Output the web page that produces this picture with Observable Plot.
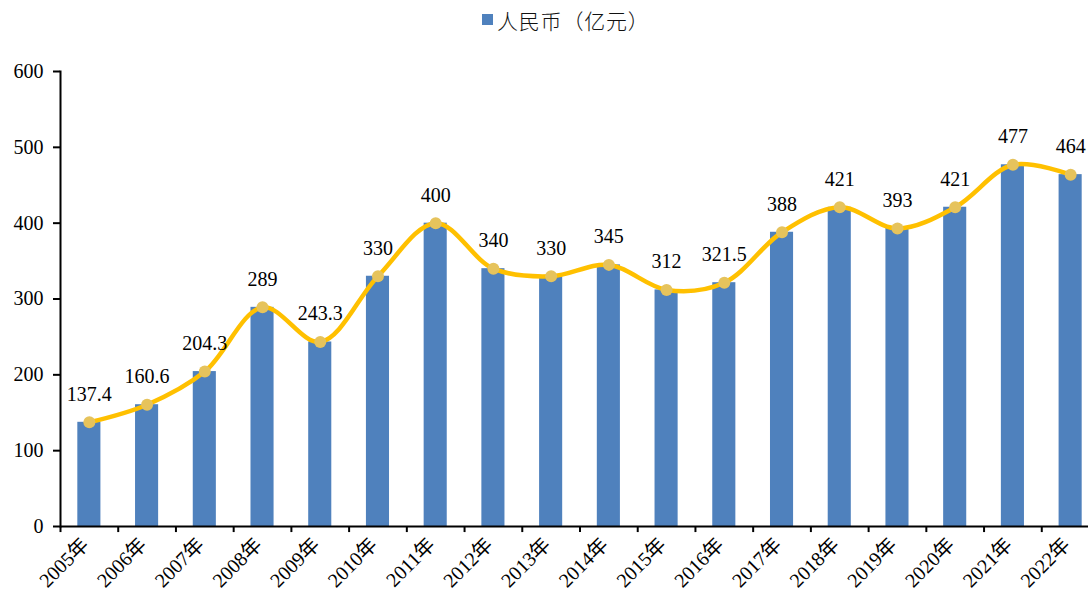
<!DOCTYPE html>
<html>
<head>
<meta charset="utf-8">
<script src="https://cdn.jsdelivr.net/npm/d3@7"></script>
<script src="https://cdn.jsdelivr.net/npm/@observablehq/plot@0.6"></script>
<style>
  body { margin: 0; background: #fff; }
  #legend { position: relative; height: 40px; font-family: "Noto Sans CJK SC", sans-serif; font-size: 21px; font-weight: 300; color: #111; }
  #legend .sw { position: absolute; left: 482px; top: 14px; width: 11px; height: 11px; background: #4F81BD; }
  #legend .tx { position: absolute; left: 497px; top: 5px; letter-spacing: 0.8px; line-height: 30px; }
  svg { overflow: visible; }
  svg text { font-family: "Liberation Serif", "Noto Sans CJK SC", serif !important; }
</style>
</head>
<body>
<div id="legend"><span class="sw"></span><span class="tx">人民币（亿元）</span></div>
<div id="chart"></div>
<script>
const years = ["2005年","2006年","2007年","2008年","2009年","2010年","2011年","2012年","2013年","2014年","2015年","2016年","2017年","2018年","2019年","2020年","2021年","2022年"];
const values = [137.4,160.6,204.3,289,243.3,330,400,340,330,345,312,321.5,388,421,393,421,477,464];
const labels = ["137.4","160.6","204.3","289","243.3","330","400","340","330","345","312","321.5","388","421","393","421","477","464"];
const yTicks = [0,100,200,300,400,500,600];

const data = years.map((y, i) => ({year: y, value: values[i], label: labels[i]}));
const xRange = [60, 1099];
const step = (xRange[1] - xRange[0]) / years.length;

const chart = Plot.plot({
  width: 1088,
  height: 557,
  marginTop: 31,
  marginLeft: 60,
  marginRight: 0,
  marginBottom: 71,
  x: {domain: years, range: xRange, paddingInner: 0.6, paddingOuter: 0.3, round: false},
  y: {domain: [0, 600], ticks: yTicks},
  marks: [
    Plot.barY(data, {x: "year", y: "value", fill: "#4F81BD"}),
    Plot.ruleY([0], {stroke: "#000", strokeWidth: 2}),
    Plot.ruleX(data, {x: "year", dx: -step / 2, y1: 0, y2: -8, stroke: "#000", strokeWidth: 2}),
    Plot.frame({anchor: "left", stroke: "#000", strokeWidth: 2}),
    Plot.line(data, {x: "year", y: "value", curve: "catmull-rom", stroke: "#FFC000", strokeWidth: 4.5}),
    Plot.dot(data, {x: "year", y: "value", r: 6, fill: "#E6C35C", stroke: "none"}),
    Plot.text(data, {x: "year", y: "value", text: "label", dy: -28, fontSize: 20, fill: "#000"}),
    Plot.axisY({ticks: yTicks, tickSize: 7, tickPadding: 10, fontSize: 20, stroke: "#000", strokeWidth: 2, fill: "#000", label: null}),
    Plot.axisX({tickSize: 0, tickRotate: -45, tickPadding: 15, dx: -4, fontSize: 20, fill: "#000", label: null})
  ]
});
document.getElementById("chart").appendChild(chart);
</script>
</body>
</html>
